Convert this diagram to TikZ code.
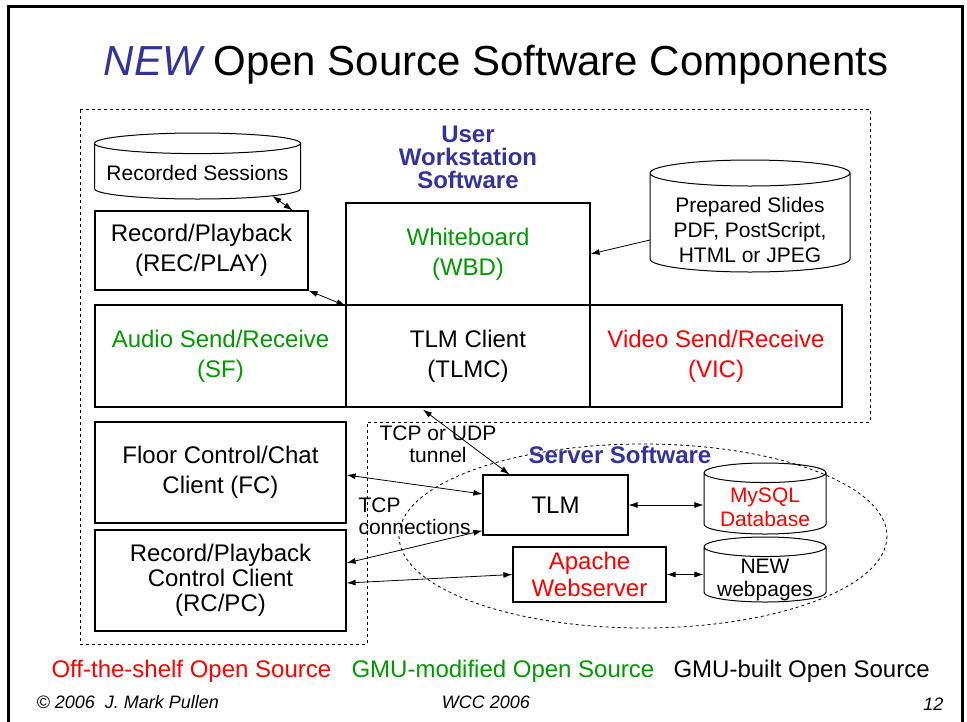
\documentclass[tikz,border=0pt]{standalone}
\usepackage{fontspec}
\setmainfont{Liberation Sans}
\usetikzlibrary{shapes.geometric}
\usetikzlibrary{arrows.meta}
\usetikzlibrary{calc}
\definecolor{gmugreen}{RGB}{0,153,0}
\definecolor{hdblue}{RGB}{51,51,153}
\tikzset{comp/.style={rectangle, draw, line width=1.2pt, inner sep=0pt, align=center, font=\fontsize{24}{30}\selectfont}}
\tikzset{store/.style={cylinder, shape border rotate=90, draw, line width=1pt, inner ysep=0pt, anchor=shape center}}
\tikzset{dbtext/.style={inner sep=0pt, align=center, font=\fontsize{21}{25}\selectfont}}
\tikzset{>={Latex[length=9pt,width=6pt]}}
\tikzset{link/.style={<->, line width=0.8pt}}
\tikzset{heading/.style={text=hdblue, font=\bfseries\fontsize{24}{23}\selectfont, align=center}}
\tikzset{note/.style={font=\fontsize{21}{22}\selectfont}}

\begin{document}
\begin{tikzpicture}[x=1pt,y=-1pt]
  \useasboundingbox (0,0) rectangle (967,721);
  \draw[line width=3pt] (8,730) -- (8,6) -- (962,6) -- (962,730);
  \node[anchor=base, font=\fontsize{42}{48}\selectfont] (title) at (496,75)
    {\textcolor{hdblue}{\itshape NEW} Open Source Software Components};
  % workstation and server areas
  \draw[dashed, line width=0.8pt] (80,109) -- (870,109) -- (870,422) -- (367,422)
    -- (367,644) -- (80,644) -- cycle;
  \draw[dashed, line width=0.8pt] (643,536) ellipse [x radius=244, y radius=92];
  \node[heading] (uws) at (468,157) {User\\Workstation\\Software};
  \node[heading] (srv) at (620,455) {Server Software};
  % components
  \node[store, inner xsep=103pt, minimum width=206, minimum height=66, aspect=0.1] (recs) at (197.5,166) {};
  \node[dbtext] (recs-t) at ($(recs.shape center)+(0,7)$) {Recorded Sessions};
  \node[comp, minimum width=213, minimum height=79] (rec) at (201.5,250.5) {Record/Playback\\(REC/PLAY)};
  \node[comp, minimum width=244, minimum height=102, text=gmugreen] (wbd) at (468,254) {Whiteboard\\(WBD)};
  \node[store, inner xsep=100pt, minimum width=200, minimum height=112, aspect=0.13] (slides) at (750,216) {};
  \node[dbtext] (slides-t) at ($(slides.shape center)+(0,14)$) {Prepared Slides\\PDF, PostScript,\\HTML or JPEG};
  \foreach \nm/\cx/\w/\col/\txt in {
    sf/220.5/251/gmugreen/{Audio Send/Receive\\(SF)},
    tlmc/468/244/black/{TLM Client\\(TLMC)},
    vic/716/252/red/{Video Send/Receive\\(VIC)}%
  } {
    \node[comp, minimum width=\w, minimum height=102, text=\col] (\nm) at (\cx,356) {\txt};
  }
  \node[comp, minimum width=251, minimum height=101] (fc) at (220.5,472.5) {Floor Control/Chat\\Client (FC)};
  \node[comp, minimum width=251, minimum height=101, font=\fontsize{24}{25}\selectfont] (rcpc) at (220.5,580.5)
    {Record/Playback\\Control Client\\(RC/PC)};
  \node[comp, minimum width=145, minimum height=60] (tlm) at (555.5,505) {TLM};
  \node[comp, minimum width=153, minimum height=55, text=red, font=\fontsize{24}{27}\selectfont] (web) at (589.5,574.5)
    {Apache\\Webserver};
  \node[store, inner xsep=61pt, minimum width=122, minimum height=71, aspect=0.16] (sql) at (765,498.5) {};
  \node[dbtext, text=red, font=\fontsize{21}{24}\selectfont] (sql-t) at ($(sql.shape center)+(0,8.5)$) {MySQL\\Database};
  \node[store, inner xsep=61pt, minimum width=122, minimum height=65, aspect=0.16] (pages) at (765,569.5) {};
  \node[dbtext, font=\fontsize{21}{23}\selectfont] (pages-t) at ($(pages.shape center)+(0,10)$) {NEW\\webpages};
  \node[note, align=center] (tunnel) at (438,444) {TCP or UDP\\tunnel};
  \node[note, align=left, anchor=north west] (tcp) at (355,494) {TCP\\connections};
  % connectors
  \coordinate (recs-r) at ($(recs.shape center)+(75,30)$);
  \coordinate (rec-t) at ($(rec.north east)+(-16,0)$);
  \coordinate (slides-l) at ($(slides.shape center)+(-100,24)$);
  \coordinate (tlmc-b) at ($(tlmc.south)+(-45,2)$);
  \coordinate (tlm-t) at ($(tlm.north west)+(27,0)$);
  \coordinate (tlm-l1) at ($(tlm.west)+(0,-11)$);
  \coordinate (tlm-l2) at ($(tlm.south west)+(0,-5)$);
  \coordinate (fc-r) at ($(fc.east)+(0,2.5)$);
  \coordinate (rcpc-r1) at ($(rcpc.east)+(0,-17.5)$);
  \coordinate (rcpc-r2) at ($(rcpc.east)+(0,2.5)$);
  \foreach \u/\v in {
    recs-r/rec-t,
    rec.south east/wbd.south west,
    tlmc-b/tlm-t,
    tlm-l1/fc-r,
    tlm-l2/rcpc-r1,
    web.west/rcpc-r2,
    tlm.east/tlm.east -| sql.west,
    web.east/web.east -| pages.west%
  }{
    \draw[link] (\u) -- (\v);
  }
  \draw[->, line width=0.8pt] (slides-l) -- (wbd.east);
  % legend and footer
  \node[anchor=base west, text=red, font=\fontsize{24}{28}\selectfont] (offshelf) at (48,677) {Off-the-shelf Open Source};
  \node[anchor=base west, text=gmugreen, font=\fontsize{24}{28}\selectfont] (gmumod) at (348,677) {GMU-modified Open Source};
  \node[anchor=base west, font=\fontsize{24}{28}\selectfont] (gmubuilt) at (670,677) {GMU-built Open Source};
  \node[anchor=base west, font=\itshape\fontsize{18}{20}\selectfont] (copy) at (33,708) {© 2006\ \ J. Mark Pullen};
  \node[anchor=base, font=\itshape\fontsize{18}{20}\selectfont] (conf) at (486,708) {WCC 2006};
  \node[anchor=base east, font=\itshape\fontsize{18}{20}\selectfont] (pageno) at (947,710) {12};
\end{tikzpicture}
\end{document}
